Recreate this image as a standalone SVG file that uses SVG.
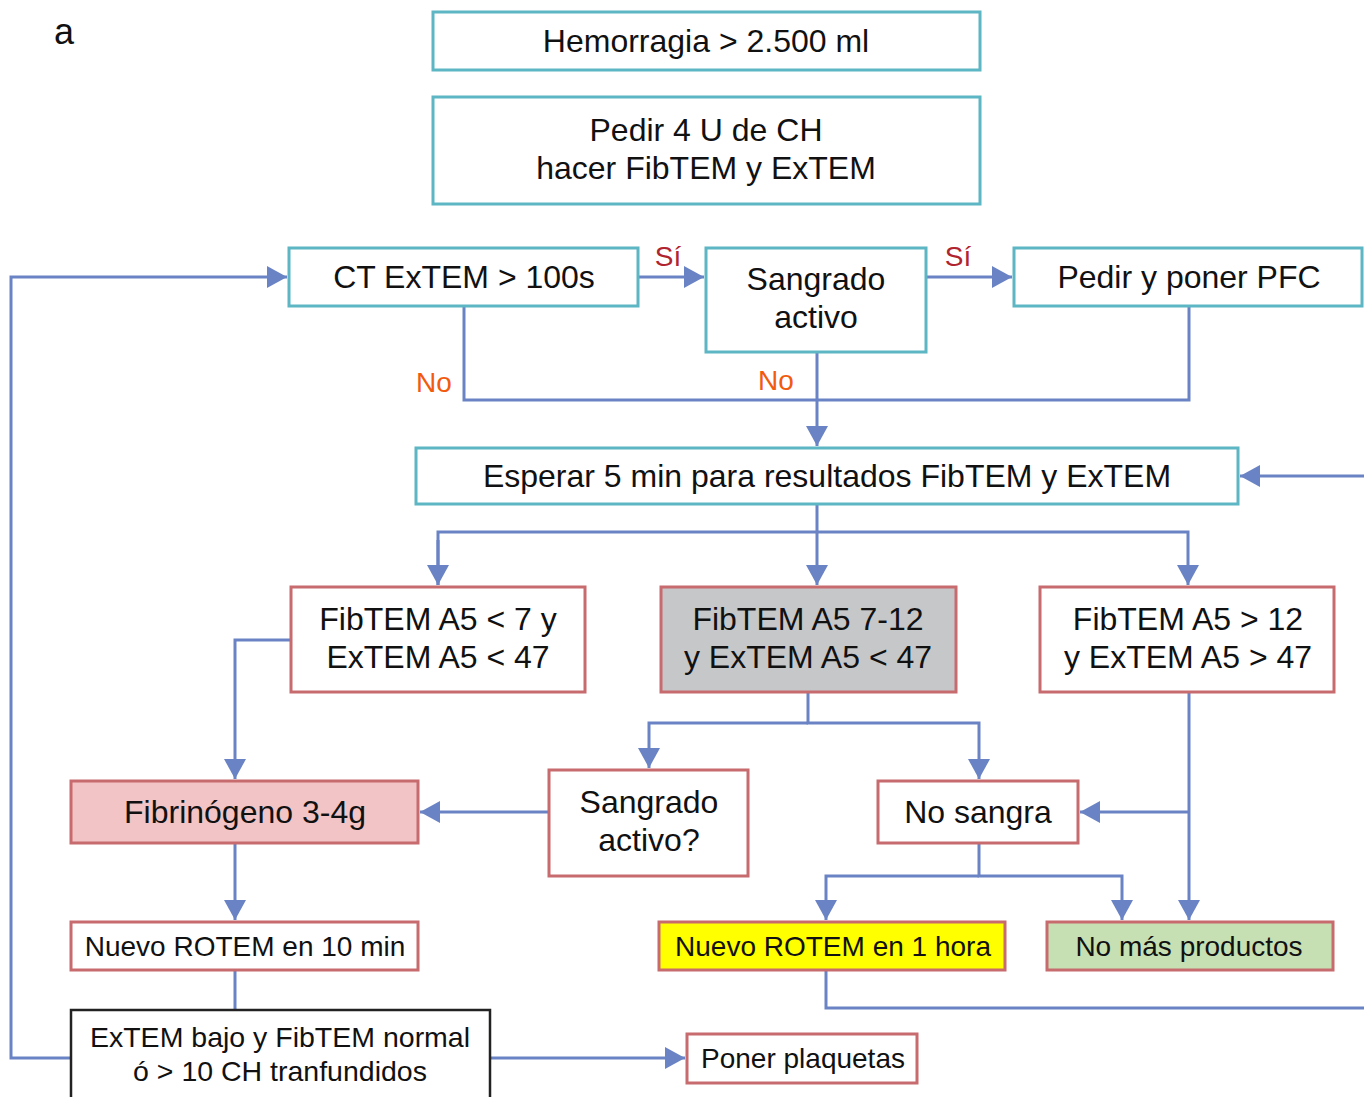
<svg xmlns="http://www.w3.org/2000/svg" width="1364" height="1097" viewBox="0 0 1364 1097">
<style>
.t{fill:#fff;stroke:#5db6c3;stroke-width:3}
.r{fill:#fff;stroke:#c76b6e;stroke-width:3}
.k{fill:#fff;stroke:#222;stroke-width:2.5}
text{font-family:"Liberation Sans",Arial,sans-serif;fill:#111;text-anchor:middle}
.f30{font-size:32px}
.f28{font-size:28.5px}
.f26{font-size:28px}
.c{fill:none;stroke:#6a83c4;stroke-width:3}
.lab{font-size:28px}
</style>
<defs>
<marker id="ah" markerUnits="userSpaceOnUse" markerWidth="24" markerHeight="24" refX="20" refY="11" orient="auto">
<path d="M0,0 L20,11 L0,22 Z" fill="#6a83c4"/>
</marker>
</defs>
<rect width="1364" height="1097" fill="#fff"/>
<text x="64" y="44" style="font-size:36px" fill="#222">a</text>

<g id="connectors">
<path class="c" d="M71,1058 H11 V277 H287" marker-end="url(#ah)"/>
<path class="c" d="M638,277 H704" marker-end="url(#ah)"/>
<path class="c" d="M926,277 H1012" marker-end="url(#ah)"/>
<path class="c" d="M464,306 V400 H1189 V306"/>
<path class="c" d="M817,352 V446" marker-end="url(#ah)"/>
<path class="c" d="M1364,476 H1240" marker-end="url(#ah)"/>
<path class="c" d="M817,504 V585" marker-end="url(#ah)"/>
<path class="c" d="M438,585 V532 H1188 V585" marker-end="url(#ah)"/>
<path class="c" d="M438,540 V585" marker-end="url(#ah)"/>
<path class="c" d="M291,640 H235 V779" marker-end="url(#ah)"/>
<path class="c" d="M808,692 V723 H979 V779" marker-end="url(#ah)"/>
<path class="c" d="M808,723 H649 V768" marker-end="url(#ah)"/>
<path class="c" d="M1189,692 V920" marker-end="url(#ah)"/>
<path class="c" d="M1189,812 H1080" marker-end="url(#ah)"/>
<path class="c" d="M549,812 H420" marker-end="url(#ah)"/>
<path class="c" d="M235,843 V920" marker-end="url(#ah)"/>
<path class="c" d="M235,970 V1010"/>
<path class="c" d="M979,843 V876 H1122 V920" marker-end="url(#ah)"/>
<path class="c" d="M979,876 H826 V920" marker-end="url(#ah)"/>
<path class="c" d="M826,970 V1008 H1364"/>
<path class="c" d="M490,1058 H685" marker-end="url(#ah)"/>
<text x="668" y="266" class="lab" style="fill:#b0242f">Sí</text>
<text x="958" y="266" class="lab" style="fill:#b0242f">Sí</text>
<text x="434" y="392" class="lab" style="fill:#f25a0f">No</text>
<text x="776" y="390" class="lab" style="fill:#f25a0f">No</text>
</g>

<g id="n1"><rect class="t" x="433" y="12" width="547" height="58"/><text class="f30" x="706" y="52">Hemorragia &gt; 2.500 ml</text></g>
<g id="n2"><rect class="t" x="433" y="97" width="547" height="107"/><text class="f30" x="706" y="141">Pedir 4 U de CH</text><text class="f30" x="706" y="179">hacer FibTEM y ExTEM</text></g>
<g id="n3"><rect class="t" x="289" y="248" width="349" height="58"/><text class="f30" x="464" y="288">CT ExTEM &gt; 100s</text></g>
<g id="n4"><rect class="t" x="706" y="248" width="220" height="104"/><text class="f30" x="816" y="290">Sangrado</text><text class="f30" x="816" y="328">activo</text></g>
<g id="n5"><rect class="t" x="1014" y="248" width="348" height="58"/><text class="f30" x="1189" y="288">Pedir y poner PFC</text></g>
<g id="n6"><rect class="t" x="416" y="448" width="822" height="56"/><text class="f30" x="827" y="487">Esperar 5 min para resultados FibTEM y ExTEM</text></g>
<g id="n7"><rect class="r" x="291" y="587" width="294" height="105"/><text class="f30" x="438" y="630">FibTEM A5 &lt; 7 y</text><text class="f30" x="438" y="668">ExTEM A5 &lt; 47</text></g>
<g id="n8"><rect class="r" x="661" y="587" width="295" height="105" style="fill:#c6c7c9"/><text class="f30" x="808" y="630">FibTEM A5 7-12</text><text class="f30" x="808" y="668">y ExTEM A5 &lt; 47</text></g>
<g id="n9"><rect class="r" x="1040" y="587" width="294" height="105"/><text class="f30" x="1188" y="630">FibTEM A5 &gt; 12</text><text class="f30" x="1188" y="668">y ExTEM A5 &gt; 47</text></g>
<g id="n10"><rect class="r" x="71" y="781" width="347" height="62" style="fill:#f2c4c5"/><text class="f30" x="245" y="823">Fibrinógeno 3-4g</text></g>
<g id="n11"><rect class="r" x="549" y="770" width="199" height="106"/><text class="f30" x="649" y="813">Sangrado</text><text class="f30" x="649" y="851">activo?</text></g>
<g id="n12"><rect class="r" x="878" y="781" width="200" height="62"/><text class="f30" x="978" y="823">No sangra</text></g>
<g id="n13"><rect class="r" x="71" y="922" width="347" height="48"/><text class="f26" x="245" y="956">Nuevo ROTEM en 10 min</text></g>
<g id="n14"><rect class="r" x="659" y="922" width="346" height="48" style="fill:#ffff00"/><text class="f26" x="833" y="956">Nuevo ROTEM en 1 hora</text></g>
<g id="n15"><rect class="r" x="1047" y="922" width="286" height="48" style="fill:#c6e0b4"/><text class="f26" x="1189" y="956">No más productos</text></g>
<g id="n16"><rect class="k" x="71" y="1010" width="419" height="100"/><text class="f28" x="280" y="1047">ExTEM bajo y FibTEM normal</text><text class="f28" x="280" y="1081">ó &gt; 10 CH tranfundidos</text></g>
<g id="n17"><rect class="r" x="687" y="1034" width="230" height="49"/><text class="f26" x="803" y="1068">Poner plaquetas</text></g>
</svg>
